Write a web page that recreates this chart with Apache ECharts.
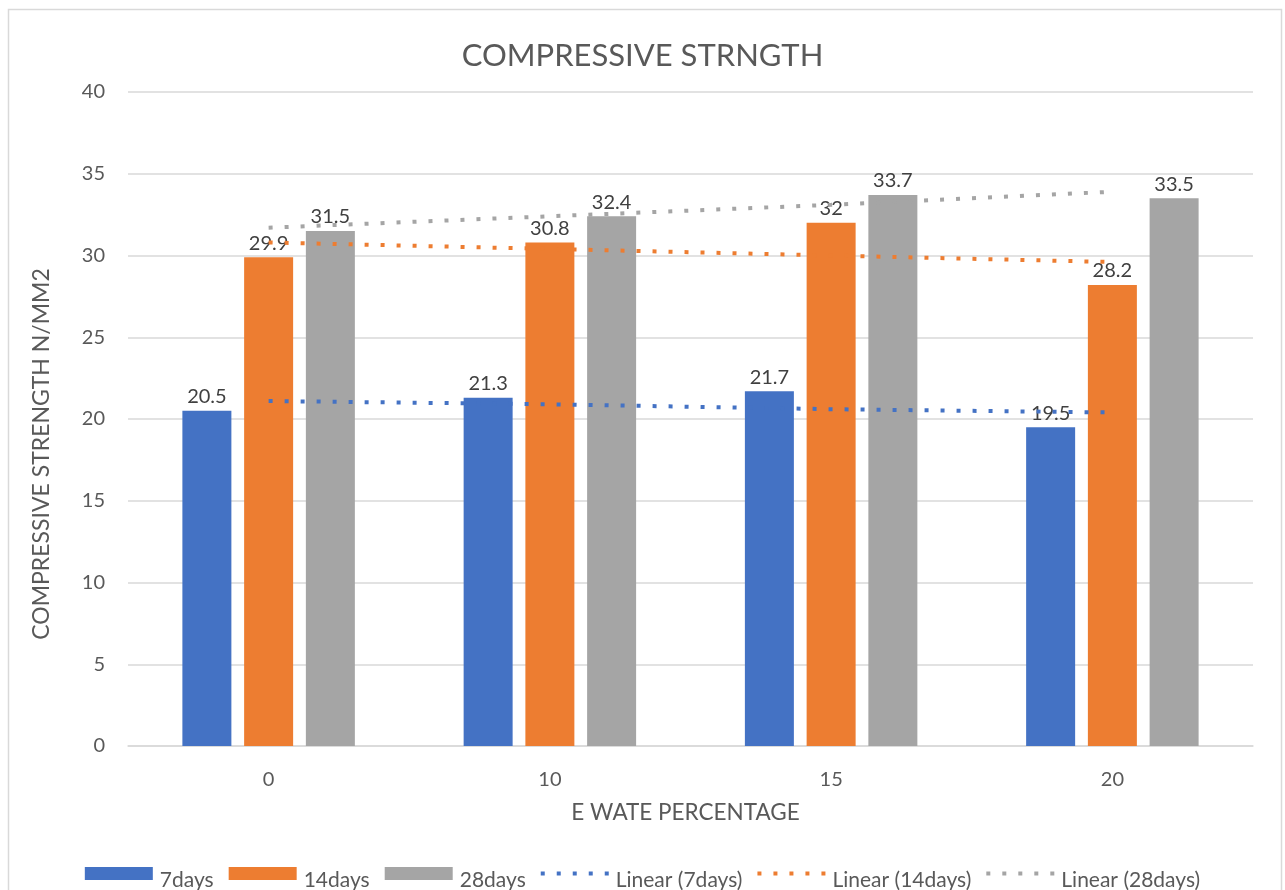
<!DOCTYPE html>
<html>
<head>
<meta charset="utf-8">
<script src="https://cdn.jsdelivr.net/npm/echarts@6/dist/echarts.min.js"></script>
<style>
html,body{margin:0;padding:0;background:#fff;}
#chart{width:1285px;height:890px;}
</style>
</head>
<body>
<div id="chart"></div>
<script>
const categories = ['0', '10', '15', '20'];
const days7 = [20.5, 21.3, 21.7, 19.5];
const days14 = [29.9, 30.8, 32, 28.2];
const days28 = [31.5, 32.4, 33.7, 33.5];
// trendline values at each category centre
const trend7 = [21.1, 20.9, 20.6, 20.4];
const trend14 = [30.8, 30.4, 30.0, 29.6];
const trend28 = [31.7, 32.4, 33.1, 33.9];
const yTicks = [0, 5, 10, 15, 20, 25, 30, 35, 40];

const FONT = 'Lato';
const C_BLUE = '#4472C4', C_ORANGE = '#ED7D31', C_GRAY = '#A5A5A5';

// legend icons occupy the upper half of a 68x26 box so the label sits a bit lower (as in the reference)
const ICON_BAR = 'path://M0,0H68V13H0Z M0,25.99h0.01v0.01h-0.01Z M67.99,25.99h0.01v0.01h-0.01Z';
const ICON_DOTS = 'path://M0,4.5h4v4h-4Z M16,4.5h4v4h-4Z M32,4.5h4v4h-4Z M48,4.5h4v4h-4Z M64,4.5h4v4h-4Z ' +
                  'M0,0h0.01v0.01h-0.01Z M67.99,25.99h0.01v0.01h-0.01Z';

const chart = echarts.init(document.getElementById('chart'), null, {renderer: 'canvas'});

function barSeries(name, data, color) {
  return {
    name, type: 'bar', data,
    barWidth: 49, barGap: '26%',
    itemStyle: {color},
    label: {show: true, position: 'top', distance: 4, color: '#404040', fontSize: 20, fontFamily: FONT},
    z: 2
  };
}
function trendSeries(name, data, color) {
  return {
    name, type: 'line', data,
    symbol: 'none', silent: true,
    lineStyle: {color, width: 4, type: [4, 12], cap: 'butt'},
    itemStyle: {color},
    z: 3
  };
}

chart.setOption({
  animation: false,
  textStyle: {fontFamily: FONT},
  title: {
    text: 'COMPRESSIVE STRNGTH', left: 'center', top: 35,
    textStyle: {fontFamily: FONT, fontSize: 31, fontWeight: 'normal', color: '#595959'}
  },
  graphic: [{
    type: 'rect', shape: {x: 8.5, y: 9.5, width: 1273, height: 900},
    style: {fill: 'none', stroke: '#d9d9d9', lineWidth: 1.5}, silent: true, z: -10
  }],
  grid: {left: 128, right: 32, top: 92, bottom: 144, containLabel: false},
  legend: {
    top: 862, left: 'center',
    itemWidth: 68, itemHeight: 26, itemGap: 15,
    textStyle: {fontFamily: FONT, fontSize: 21, color: '#595959', padding: [0, 0, 0, 2]},
    data: [
      {name: '7days', icon: ICON_BAR},
      {name: '14days', icon: ICON_BAR},
      {name: '28days', icon: ICON_BAR},
      {name: 'Linear (7days)', icon: ICON_DOTS},
      {name: 'Linear (14days)', icon: ICON_DOTS},
      {name: 'Linear (28days)', icon: ICON_DOTS}
    ]
  },
  xAxis: {
    type: 'category', data: categories,
    name: 'E WATE PERCENTAGE', nameLocation: 'middle', nameGap: 55,
    nameTextStyle: {fontFamily: FONT, fontSize: 22.5, color: '#595959', padding: [0, 10, 0, 0]},
    axisLine: {lineStyle: {color: '#d9d9d9', width: 1.5}},
    axisTick: {show: false},
    axisLabel: {fontFamily: FONT, fontSize: 20, color: '#595959', margin: 24}
  },
  yAxis: {
    type: 'value', min: yTicks[0], max: yTicks[yTicks.length - 1], interval: 5,
    name: 'COMPRESSIVE STRENGTH N/MM2', nameLocation: 'middle', nameGap: 75, nameRotate: 90,
    nameTextStyle: {fontFamily: FONT, fontSize: 23, color: '#595959', padding: [0, 70, 0, 0]},
    axisLine: {show: false}, axisTick: {show: false},
    splitLine: {lineStyle: {color: '#d9d9d9', width: 1.5}},
    axisLabel: {fontFamily: FONT, fontSize: 20, color: '#595959', margin: 23}
  },
  series: [
    barSeries('7days', days7, C_BLUE),
    barSeries('14days', days14, C_ORANGE),
    barSeries('28days', days28, C_GRAY),
    trendSeries('Linear (7days)', trend7, C_BLUE),
    trendSeries('Linear (14days)', trend14, C_ORANGE),
    trendSeries('Linear (28days)', trend28, C_GRAY)
  ]
});
</script>
</body>
</html>
